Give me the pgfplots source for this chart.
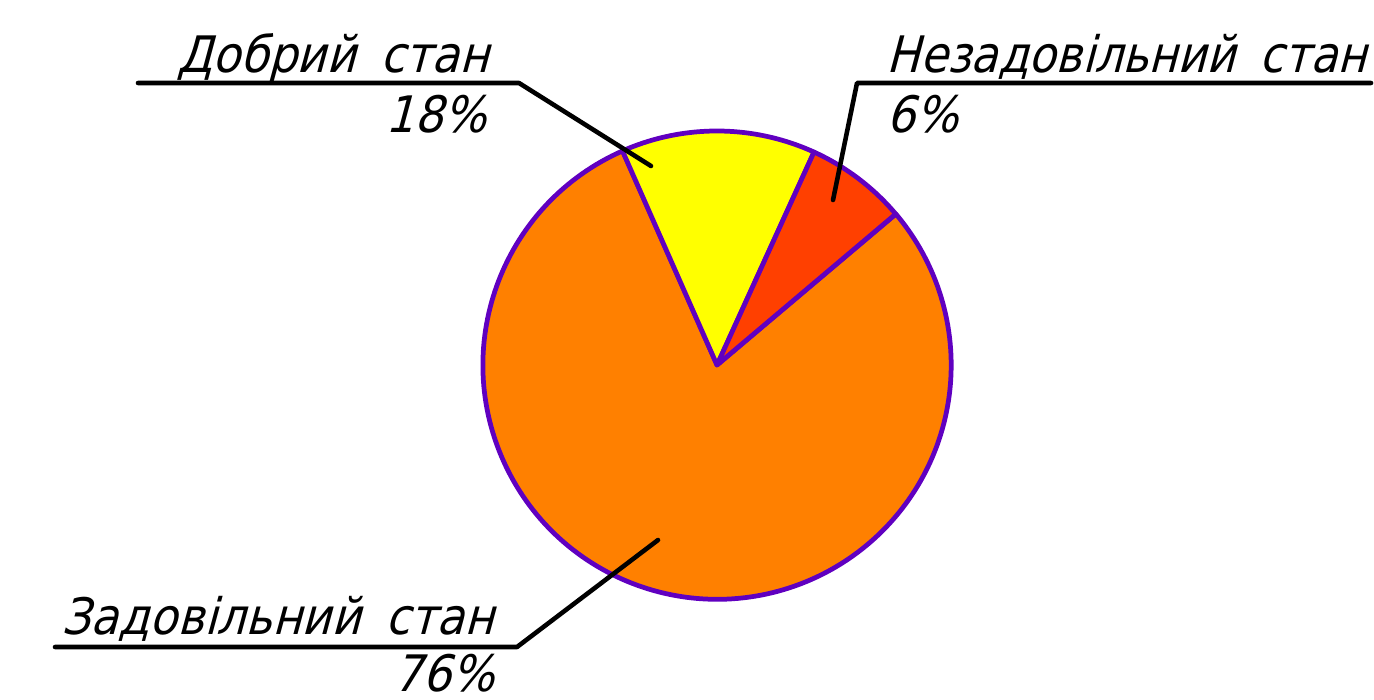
\documentclass[border=0pt]{standalone}
\usepackage{pgfplots}
\pgfplotsset{compat=1.18}
\usepgfplotslibrary{polar}
\usepackage{graphicx}
\usepackage{fontspec}
\setmainfont{DejaVu Sans}
\newfontfamily\labfont{DejaVu Sans Condensed}[AutoFakeSlant=0.27]
\newcommand\lab{\labfont\itshape\fontsize{14.3}{17}\selectfont}
\newcommand\gap{\hspace{0.5em}}
\definecolor{cOrange}{RGB}{255,128,0}
\definecolor{cYellow}{RGB}{255,255,0}
\definecolor{cRed}{RGB}{255,64,0}
\definecolor{cEdge}{RGB}{96,0,192}
\begin{document}
\begin{tikzpicture}
\begin{axis}[
  x=0.01cm, y=0.01cm,
  xmin=-717, xmax=657, ymin=-334, ymax=365,
  hide axis, clip=false,
]
% slices: (angle in degrees, radius); radius 234 units = 2.34cm
% Orange (Задовільний стан): 113.8 -> 400.2 deg
\addplot[fill=cOrange, draw=cEdge, line width=1.35pt, line join=round, data cs=polar]
  coordinates {(0,0) (113.8,234)} arc[start angle=113.8, end angle=400.2, radius=2.34cm] -- cycle;
% Yellow (Добрий стан): 65.5 -> 113.8 deg
\addplot[fill=cYellow, draw=cEdge, line width=1.35pt, line join=round, data cs=polar]
  coordinates {(0,0) (65.5,234)} arc[start angle=65.5, end angle=113.8, radius=2.34cm] -- cycle;
% Red (Незадовільний стан): 40.2 -> 65.5 deg
\addplot[fill=cRed, draw=cEdge, line width=1.35pt, line join=round, data cs=polar]
  coordinates {(0,0) (40.2,234)} arc[start angle=40.2, end angle=65.5, radius=2.34cm] -- cycle;
% leader lines
\addplot[black, line width=1.3pt, line cap=round, line join=round]
  coordinates {(-579,282) (-198,282) (-66,199)};
\addplot[black, line width=1.3pt, line cap=round, line join=round]
  coordinates {(654,282) (140,282) (116,165)};
\addplot[black, line width=1.3pt, line cap=round, line join=round]
  coordinates {(-662,-282) (-200,-282) (-59,-175)};
% labels
\node[inner sep=0pt, anchor=base east] at (axis cs:-227,293) {\lab Добрий\gap стан};
\node[inner sep=0pt, anchor=base east] at (axis cs:-230,233) {\lab 18\%};
\node[inner sep=0pt, anchor=base west] at (axis cs:169,293) {\scalebox{0.98}[1]{\lab Незадовільний\gap стан}};
\node[inner sep=0pt, anchor=base west] at (axis cs:169,233) {\lab 6\%};
\node[inner sep=0pt, anchor=base east] at (axis cs:-222,-269) {\lab Задовільний\gap стан};
\node[inner sep=0pt, anchor=base east] at (axis cs:-222,-326) {\lab 76\%};
\end{axis}
\pgfresetboundingbox
\path[use as bounding box] (current axis.south west) rectangle (current axis.north east);
\end{tikzpicture}
\end{document}
